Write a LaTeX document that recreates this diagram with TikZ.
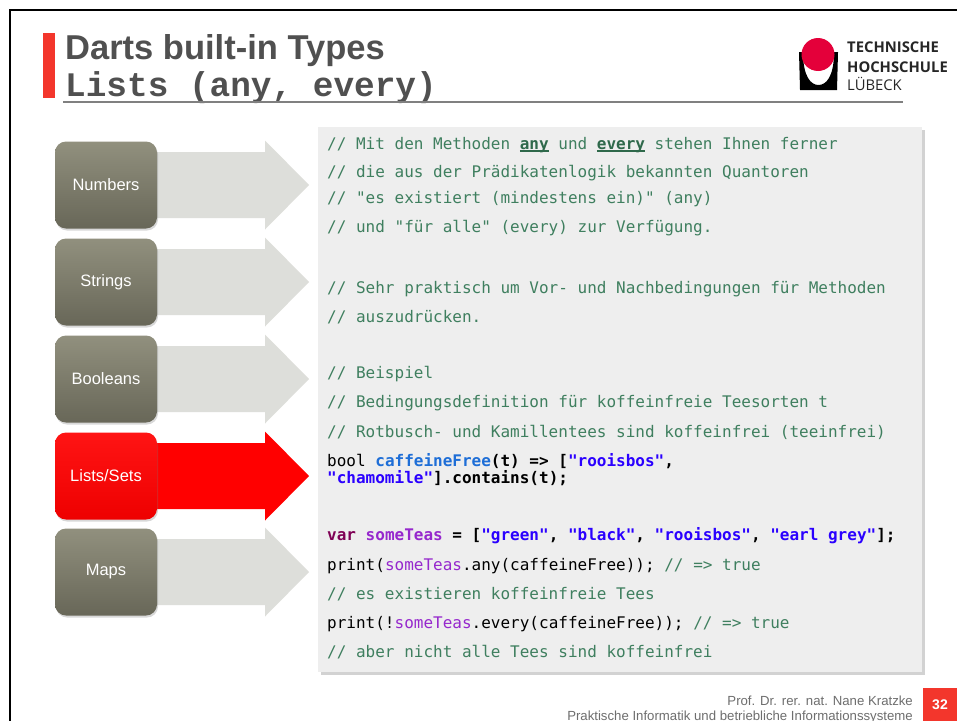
\documentclass[tikz,border=0pt]{standalone}
\usepackage{fontspec}
\setmainfont{Liberation Sans}
\setmonofont{DejaVu Sans Mono}
\newfontfamily\headmono{Liberation Mono}
\newfontfamily\logofont{Open Sans}
\usetikzlibrary{shadows,backgrounds}
\definecolor{thred}{RGB}{243,54,44}
\definecolor{logored}{RGB}{228,0,58}
\definecolor{headgray}{RGB}{80,80,80}
\definecolor{cmtgreen}{RGB}{63,127,95}
\definecolor{anygreen}{RGB}{47,105,75}
\definecolor{fnblue}{RGB}{30,110,215}
\definecolor{strblue}{RGB}{42,0,255}
\definecolor{kwred}{RGB}{127,0,85}
\definecolor{varpurple}{RGB}{150,40,205}
\definecolor{boxtop}{RGB}{145,144,126}
\definecolor{boxbottom}{RGB}{104,103,88}
\definecolor{listtop}{RGB}{255,20,20}
\definecolor{listbottom}{RGB}{238,0,0}
\definecolor{flowgray}{RGB}{221,222,218}
\definecolor{codebg}{RGB}{238,238,238}
\definecolor{footgray}{RGB}{110,110,110}
\newsavebox{\quantbox}
\newcommand{\cmt}[1]{\textcolor{cmtgreen}{#1}}
\newcommand{\qstr}[1]{\textcolor{strblue}{\textbf{#1}}}
\newcommand{\fname}[1]{\textcolor{fnblue}{\textbf{#1}}}
\newcommand{\vname}[1]{\textcolor{varpurple}{#1}}
\newcommand{\kw}[1]{\textcolor{kwred}{\textbf{#1}}}
\newcommand{\quant}[1]{\textcolor{anygreen}{\sbox{\quantbox}{\textbf{#1}}%
  \rlap{\rule[-2.6pt]{\wd\quantbox}{1.3pt}}\usebox{\quantbox}}}
\newcommand{\flowarrow}[2]{\fill[#2] (#1) ++(0,-33) -- ++(159,0)
  -- ++(0,-11.5) -- ++(44,44.5) -- ++(-44,44.5) -- ++(0,-11.5)
  -- ++(-159,0) -- cycle;}
\tikzset{
  menubox/.style={rounded corners=11pt, minimum width=102pt,
    minimum height=87pt, inner sep=0pt, top color=boxtop,
    bottom color=boxbottom, text=white,
    font=\fontsize{16.5}{18}\selectfont,
    drop shadow={shadow xshift=1pt, shadow yshift=-2pt, opacity=.3}},
  activebox/.style={menubox, top color=listtop, bottom color=listbottom},
  codebox/.style={anchor=north west, minimum width=604pt,
    minimum height=545pt, inner sep=0pt, fill=codebg,
    drop shadow={shadow xshift=3pt, shadow yshift=-3pt, opacity=.35}},
  codeline/.style={anchor=base west, inner sep=0pt,
    font=\fontsize{16}{17}\selectfont\ttfamily},
  logotext/.style={anchor=base west, inner sep=0pt,
    text=black!85, font=\fontsize{14.8}{16}\logofont},
  foot/.style={anchor=base east, inner sep=0pt, text=footgray,
    font=\fontsize{13.2}{15}\selectfont}
}

\begin{document}
\begin{tikzpicture}[x=1pt,y=-1pt]
  \useasboundingbox (0,0) rectangle (957,720);
  \begin{scope}[on background layer]
    \fill[white] (0,0) rectangle (957,720);
  \end{scope}
  % frame
  \draw[line width=2.5pt] (10,740) -- (10,10) -- (980,10);
  % header
  \fill[thred] (43,33) rectangle (55,98);
  \node (title) [anchor=base west, inner sep=0pt, text=headgray,
    font=\fontsize{34.5}{36}\selectfont\bfseries] at (65,59)
    {Darts built-in Types};
  \node (subtitle) [anchor=base west, inner sep=0pt, text=headgray,
    font=\fontsize{34.4}{36}\headmono\bfseries] at (65,96.7)
    {Lists (any, every)};
  \draw[gray, line width=1.5pt] (63,102) -- (903,102);
  % logo
  \fill (799,52) -- (800,90) -- (837,90) -- (838,52) -- (834,52)
    .. controls (834,77) and (826,85) .. (818.5,85)
    .. controls (811,85) and (803,77) .. (803,52) -- cycle;
  \fill[logored] (818,54.5) circle (16.5);
  \node (th1) [logotext] at (847,52) {\bfseries TECHNISCHE};
  \node (th2) [logotext] at (847,72) {\bfseries HOCHSCHULE};
  \node (th3) [logotext] at (847,90) {LÜBECK};
  % menu
  \node (numbers) [menubox] at (106,185) {Numbers};
  \node (strings) [menubox] at (106,282) {Strings};
  \node (booleans) [menubox] at (106,379) {Booleans};
  \node (lists) [activebox] at (106,476) {Lists/Sets};
  \node (maps) [menubox] at (106,572) {Maps};
  \begin{scope}[on background layer]
    \flowarrow{numbers.center}{flowgray}
    \flowarrow{strings.center}{flowgray}
    \flowarrow{booleans.center}{flowgray}
    \flowarrow{lists.center}{red}
    \flowarrow{maps.center}{flowgray}
  \end{scope}
  % code
  \node (code) [codebox] at (318,127) {};
  \node (l1) [codeline] at (327,149)
    {\cmt{// Mit den Methoden \quant{any} und \quant{every} stehen Ihnen ferner}};
  \node (l2) [codeline] at (327,177)
    {\cmt{// die aus der Prädikatenlogik bekannten Quantoren}};
  \node (l3) [codeline] at (327,203.5)
    {\cmt{// "es existiert (mindestens ein)" (any)}};
  \node (l4) [codeline] at (327,232.5)
    {\cmt{// und "für alle" (every) zur Verfügung.}};
  \node (l6) [codeline] at (327,293)
    {\cmt{// Sehr praktisch um Vor- und Nachbedingungen für Methoden}};
  \node (l7) [codeline] at (327,322)
    {\cmt{// auszudrücken.}};
  \node (l9) [codeline] at (327,378)
    {\cmt{// Beispiel}};
  \node (l10) [codeline] at (327,407)
    {\cmt{// Bedingungsdefinition für koffeinfreie Teesorten t}};
  \node (l11) [codeline] at (327,437)
    {\cmt{// Rotbusch- und Kamillentees sind koffeinfrei (teeinfrei)}};
  \node (l12) [codeline] at (327,466)
    {bool \fname{caffeineFree}\textbf{(t) => [}\qstr{"rooisbos"}\textbf{,}};
  \node (l13) [codeline] at (327,483.5)
    {\qstr{"chamomile"}\textbf{].contains(t);}};
  \node (l15) [codeline] at (327,540)
    {\kw{var} \textcolor{varpurple}{\textbf{someTeas}} \textbf{= [}\qstr{"green"}\textbf{, }\qstr{"black"}\textbf{, }\qstr{"rooisbos"}\textbf{, }\qstr{"earl grey"}\textbf{];}};
  \node (l16) [codeline] at (327,570)
    {print(\vname{someTeas}.any(caffeineFree)); \cmt{// => true}};
  \node (l17) [codeline] at (327,599.5)
    {\cmt{// es existieren koffeinfreie Tees}};
  \node (l18) [codeline] at (327,628.5)
    {print(!\vname{someTeas}.every(caffeineFree)); \cmt{// => true}};
  \node (l19) [codeline] at (327,657.5)
    {\cmt{// aber nicht alle Tees sind koffeinfrei}};
  % footer
  \node (author) [foot] at (913,705) {Prof. Dr. rer. nat. Nane Kratzke};
  \node (chair) [foot] at (913,720.5)
    {Praktische Informatik und betriebliche Informationssysteme};
  \node (page) [fill=thred, text=white, inner sep=0pt,
    minimum width=35pt, minimum height=34pt,
    font=\fontsize{14}{16}\selectfont\bfseries] at (940,705) {32};
\end{tikzpicture}
\end{document}
